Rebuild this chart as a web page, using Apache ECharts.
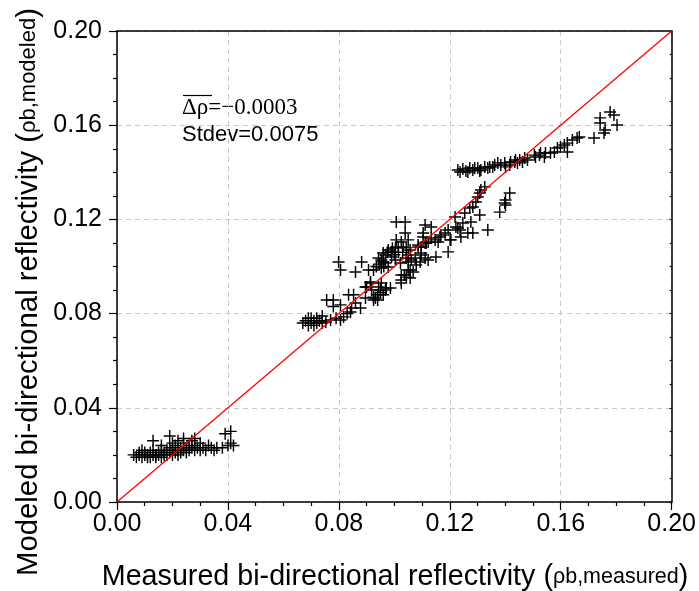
<!DOCTYPE html>
<html>
<head>
<meta charset="utf-8">
<script src="https://cdn.jsdelivr.net/npm/echarts@6/dist/echarts.min.js"></script>
<style>
html,body{margin:0;padding:0;background:#fff;}
#chart{width:699px;height:591px;}
</style>
</head>
<body>
<div id="chart"></div>
<script>
// ---- Data: [measured, modeled] pairs ----
var lowCluster = [
[0.006,0.020],[0.007,0.019],[0.008,0.021],[0.008,0.020],[0.009,0.019],[0.010,0.020],[0.010,0.021],[0.011,0.019],
[0.011,0.020],[0.012,0.019],[0.012,0.021],[0.013,0.020],[0.013,0.022],[0.014,0.019],[0.014,0.020],[0.015,0.020],
[0.015,0.021],[0.016,0.019],[0.016,0.022],[0.017,0.020],[0.017,0.021],[0.018,0.020],[0.018,0.022],[0.019,0.021],
[0.019,0.023],[0.020,0.020],[0.020,0.022],[0.021,0.021],[0.021,0.024],[0.022,0.022],[0.022,0.020],[0.023,0.023],
[0.023,0.021],[0.024,0.022],[0.024,0.025],[0.025,0.023],[0.025,0.021],[0.026,0.024],[0.026,0.022],[0.027,0.023],
[0.027,0.026],[0.028,0.022],[0.028,0.024],[0.029,0.023],[0.030,0.022],[0.030,0.025],[0.031,0.023],[0.032,0.022],
[0.033,0.024],[0.034,0.023],[0.035,0.022],[0.036,0.023],[0.028,0.027],[0.013,0.026],[0.019,0.028],[0.016,0.024],
[0.009,0.022],[0.024,0.027],[0.039,0.029],[0.041,0.030],[0.038,0.023],[0.041,0.025],[0.040,0.024],[0.042,0.024],
[0.022,0.026],[0.020,0.025]
];
var midLowCluster = [
[0.067,0.076],[0.068,0.077],[0.069,0.075],[0.070,0.076],[0.070,0.078],[0.071,0.077],[0.072,0.076],[0.072,0.078],
[0.073,0.077],[0.074,0.076],[0.069,0.078],[0.071,0.075],[0.074,0.079],[0.0756,0.0858],[0.078,0.0858],[0.078,0.083],
[0.0806,0.0837],[0.0835,0.088],[0.0853,0.088],[0.086,0.0845],[0.0817,0.0786],[0.083,0.080],[0.0842,0.0807],
[0.0846,0.0824],[0.0806,0.0773],[0.079,0.078],[0.0753,0.0764],[0.077,0.0773],[0.0896,0.0913],[0.0914,0.093],
[0.0925,0.0858],[0.094,0.088],[0.095,0.089],[0.0878,0.0824],[0.0896,0.0866],[0.0932,0.0866],[0.0918,0.09],
[0.0943,0.0913],[0.0968,0.09],[0.094,0.0858],[0.0925,0.087],[0.095,0.090],[0.096,0.088],[0.0971,0.0909],
[0.0914,0.0934],[0.090,0.0913]
];
var midCluster = [
[0.0799,0.1019],[0.0806,0.0985],[0.086,0.0977],[0.0882,0.1019],[0.0907,0.0985],[0.0953,0.1028],[0.0968,0.1015],
[0.0953,0.0994],[0.0978,0.0998],[0.0968,0.1049],[0.0989,0.1062],[0.1004,0.1079],[0.1014,0.1083],[0.1007,0.1113],
[0.1025,0.1104],[0.1032,0.1083],[0.1043,0.1079],[0.1057,0.107],[0.1039,0.1142],[0.1007,0.1189],[0.1039,0.1189],
[0.0978,0.107],[0.0943,0.1036],[0.1004,0.1028],[0.1022,0.1015],[0.105,0.1019],[0.1061,0.1028],[0.1079,0.1006],
[0.1093,0.1019],[0.105,0.0985],[0.1068,0.0977],[0.1111,0.1036],[0.1122,0.1028],[0.115,0.104],[0.1086,0.1091],
[0.1097,0.1083],[0.1111,0.11],[0.1122,0.1104],[0.1104,0.1125],[0.1133,0.1121],[0.1147,0.1113],[0.1165,0.1125],
[0.1158,0.1104],[0.1183,0.1142],[0.1194,0.1155],[0.1111,0.1176],[0.1133,0.1168],[0.1194,0.1062],[0.1201,0.1113],
[0.1222,0.1168],[0.1237,0.1155],[0.1219,0.121],[0.1247,0.1185],[0.1254,0.1227],[0.124,0.1125],[0.1265,0.1142],
[0.1283,0.1142],[0.1276,0.1189],[0.1308,0.1219],[0.1272,0.1248],[0.1283,0.1253],[0.1301,0.1295],[0.1308,0.1312],
[0.1326,0.1338],[0.1337,0.1155],[0.138,0.1231],[0.1401,0.1261],[0.1401,0.1282],[0.1416,0.1312],[0.1025,0.0943],
[0.1043,0.0955],[0.1057,0.0951],[0.1025,0.0964],[0.1097,0.1049],[0.105,0.1049],[0.1312,0.1325],[0.1294,0.1274],
[0.1229,0.1163],[0.1204,0.1113],[0.1168,0.1134],[0.1398,0.127],[0.1025,0.093],[0.0925,0.0985],[0.096,0.1057],
[0.0975,0.106],[0.0993,0.1078],[0.105,0.1113],[0.1086,0.1083],[0.1104,0.1142],[0.1115,0.1100],[0.1043,0.1036],
[0.1075,0.1036],[0.1097,0.1057],[0.1036,0.0964],[0.1057,0.0985],[0.0986,0.0909],[0.0953,0.093],[0.0935,0.1000],
[0.0945,0.1010],[0.0960,0.1020],[0.0962,0.1000],[0.0990,0.1040],[0.1000,0.1050],[0.1015,0.1060],[0.1030,0.1060]
];
var upperCluster = [
[0.1229,0.141],[0.1247,0.1414],[0.1258,0.1406],[0.1272,0.1418],[0.1283,0.141],[0.1301,0.1418],[0.1312,0.141],
[0.1326,0.1423],[0.1344,0.1423],[0.1362,0.1431],[0.1373,0.144],[0.1398,0.144],[0.1401,0.1423],[0.1416,0.1431],
[0.1434,0.1444],[0.1452,0.1452],[0.147,0.1461],[0.1462,0.1444],[0.1505,0.1473],[0.1523,0.1473],[0.1541,0.1465],
[0.1545,0.1482],[0.1577,0.1486],[0.1588,0.1503],[0.1599,0.1507],[0.1613,0.1516],[0.1624,0.1524],[0.1624,0.1486],
[0.1642,0.1537],[0.1659,0.1546],[0.1667,0.155],[0.172,0.1546],[0.1756,0.1567],[0.1760,0.158],[0.1742,0.1609],
[0.1742,0.1631],[0.1778,0.1656],[0.1792,0.1643],[0.1803,0.1601],[0.1237,0.1401],[0.1265,0.1401],[0.129,0.1418],
[0.1308,0.1406],[0.1337,0.1418],[0.1355,0.1423],[0.1384,0.1431],[0.1419,0.1444],[0.1437,0.1452],[0.1444,0.144],
[0.148,0.1452],[0.1509,0.1465],[0.1527,0.1482],[0.1563,0.1482]
];
var oneToOne = [[0, 0], [0.2, 0.2]];
var xTickLabels = ['0.00', '0.04', '0.08', '0.12', '0.16', '0.20'];
var yTickLabels = ['0.00', '0.04', '0.08', '0.12', '0.16', '0.20'];
var statsMean = '=\u22120.0003';
var statsStd = 'Stdev=0.0075';

var allPoints = lowCluster.concat(midLowCluster, midCluster, upperCluster);

var plusPath = 'path://M4.4,0H5.6V4.4H10V5.6H5.6V10H4.4V5.6H0V4.4H4.4Z';

var chart = echarts.init(document.getElementById('chart'), null, {renderer: 'canvas'});
function tickFmt(arr) { return function (v) { return arr[Math.round(v / 0.04)]; }; }
var font = 'Arial, "Liberation Sans", sans-serif';
var grid = {left: 117, right: 24, top: 31, bottom: 89, containLabel: false};

chart.setOption({
  animation: false,
  backgroundColor: '#fff',
  grid: grid,
  xAxis: [{
    type: 'value', min: 0, max: 0.2, interval: 0.04, position: 'bottom',
    axisLine: {show: true, onZero: false, lineStyle: {color: '#000', width: 1.5}},
    axisTick: {show: true, inside: false, length: 8, lineStyle: {color: '#000', width: 1.2}},
    minorTick: {show: true, splitNumber: 4, length: 4, lineStyle: {color: '#000', width: 1.2}},
    axisLabel: {formatter: tickFmt(xTickLabels), fontSize: 25, color: '#000', fontFamily: font, margin: 10},
    splitLine: {show: true, lineStyle: {color: '#c8c8c8', type: [5, 4], width: 1}}
  }, {
    type: 'value', min: 0, max: 0.2, interval: 0.04, position: 'top',
    axisLine: {show: true, onZero: false, lineStyle: {color: '#000', width: 1.5}},
    axisTick: {show: false}, axisLabel: {show: false}, splitLine: {show: false}
  }],
  yAxis: [{
    type: 'value', min: 0, max: 0.2, interval: 0.04, position: 'left',
    axisLine: {show: true, onZero: false, lineStyle: {color: '#000', width: 1.5}},
    axisTick: {show: true, inside: false, length: 8, lineStyle: {color: '#000', width: 1.2}},
    minorTick: {show: true, splitNumber: 4, length: 4, lineStyle: {color: '#000', width: 1.2}},
    axisLabel: {formatter: tickFmt(yTickLabels), fontSize: 25, color: '#000', fontFamily: font, margin: 15},
    splitLine: {show: true, lineStyle: {color: '#c8c8c8', type: [5, 4], width: 1}}
  }, {
    type: 'value', min: 0, max: 0.2, interval: 0.04, position: 'right',
    axisLine: {show: true, onZero: false, lineStyle: {color: '#000', width: 1.5}},
    axisTick: {show: true, inside: true, length: 2, lineStyle: {color: '#000', width: 1.2}},
    minorTick: {show: true, inside: true, splitNumber: 4, length: 2, lineStyle: {color: '#000', width: 1.2}},
    axisLabel: {show: false}, splitLine: {show: false}
  }],
  series: [{
    type: 'scatter',
    data: allPoints,
    symbol: plusPath,
    symbolSize: 12,
    itemStyle: {color: '#000', opacity: 1},
    silent: true
  }, {
    type: 'line',
    data: oneToOne,
    symbol: 'none',
    lineStyle: {color: '#ff0000', width: 1.3},
    silent: true,
    z: 3
  }],
  graphic: [
    {type: 'text', left: 182, top: 96, style: {
      text: '{s|\u0394\u03c1' + statsMean + '}',
      rich: {s: {fontFamily: '"Liberation Serif", "Times New Roman", serif', fontSize: 23, fill: '#000'}}
    }},
    {type: 'line', shape: {x1: 183, y1: 95.5, x2: 212, y2: 95.5}, style: {stroke: '#000', lineWidth: 1.2}},
    {type: 'text', left: 182, top: 124, style: {
      text: statsStd, font: '22px Arial, "Liberation Sans", sans-serif', fill: '#000'
    }},
    {type: 'text', x: 395, y: 577, style: {
      text: '{a|Measured bi-directional reflectivity (}{b|\u03c1b,measured}{a|)}',
      align: 'center', verticalAlign: 'middle',
      rich: {a: {fontSize: 28.7, fontFamily: font, fill: '#000'}, b: {fontSize: 21.5, fontFamily: font, fill: '#000'}}
    }},
    {type: 'text', x: 29, y: 292, rotation: Math.PI / 2, style: {
      text: '{a|Modeled bi-directional reflectivity (}{b|\u03c1b,modeled}{a|)}',
      align: 'center', verticalAlign: 'middle',
      rich: {a: {fontSize: 29.3, fontFamily: font, fill: '#000'}, b: {fontSize: 22, fontFamily: font, fill: '#000'}}
    }}
  ]
});
</script>
</body>
</html>
